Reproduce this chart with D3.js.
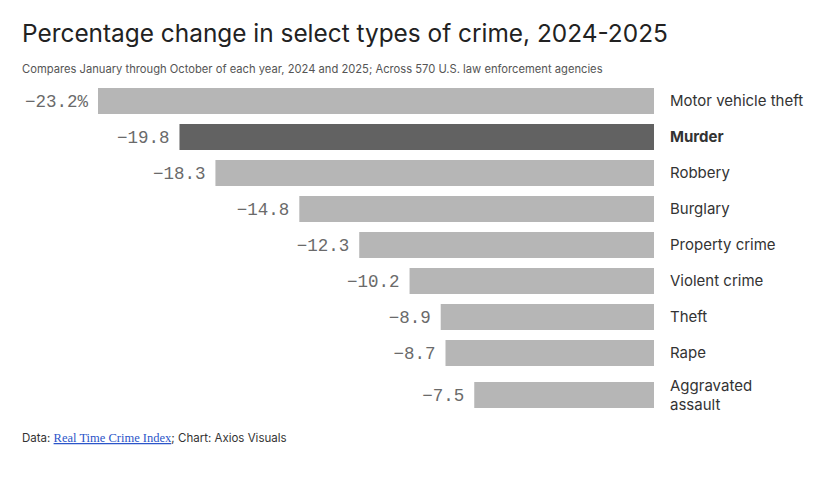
<!DOCTYPE html>
<html>
<head>
<meta charset="utf-8">
<script src="https://cdn.jsdelivr.net/npm/d3@7"></script>
<style>
  body { margin: 0; background: #fff; }
  svg text { font-family: Inter, "Noto Sans", sans-serif; }
</style>
</head>
<body>
<div id="chart"></div>
<script>
// Chart data
const crimes = ["Motor vehicle theft", "Murder", "Robbery", "Burglary", "Property crime",
                "Violent crime", "Theft", "Rape", "Aggravated assault"];
const changes = [-23.2, -19.8, -18.3, -14.8, -12.3, -10.2, -8.9, -8.7, -7.5];
const labelLines = [["Motor vehicle theft"], ["Murder"], ["Robbery"], ["Burglary"], ["Property crime"],
                    ["Violent crime"], ["Theft"], ["Rape"], ["Aggravated", "assault"]];
const highlight = "Murder";

const width = 822, height = 481;
const zeroX = 654, barH = 26, gap = 10, lineH = 19;

const svg = d3.select('#chart').append('svg')
    .attr('width', width)
    .attr('height', height);

// Title and subtitle
svg.append('text')
    .attr('x', 22).attr('y', 42)
    .attr('font-size', 24.4)
    .attr('fill', '#222')
    .text('Percentage change in select types of crime, 2024-2025');

svg.append('text')
    .attr('x', 22).attr('y', 73)
    .attr('font-size', 11.2)
    .attr('fill', '#555')
    .text('Compares January through October of each year, 2024 and 2025; Across 570 U.S. law enforcement agencies');

// Scales
const x = d3.scaleLinear()
    .domain([-23.2, 0])
    .range([98, zeroX]);

// Row positions: each row's height depends on how many label lines it has
const rowH = i => Math.max(barH, labelLines[i].length * lineH);
const rowTops = [];
let rowY = 88;
labelLines.forEach((lines, i) => {
    rowTops.push(rowY);
    rowY += rowH(i) + gap;
});

const rows = svg.selectAll('.row')
    .data(crimes.map((c, i) => ({ crime: c, value: changes[i], lines: labelLines[i], i })))
    .enter()
    .append('g')
    .attr('class', 'row')
    .attr('transform', d => `translate(0,${rowTops[d.i]})`);

rows.append('rect')
    .attr('x', d => x(d.value))
    .attr('y', d => (rowH(d.i) - barH) / 2)
    .attr('width', d => x(0) - x(d.value))
    .attr('height', barH)
    .attr('fill', d => d.crime === highlight ? '#626262' : '#b6b6b6');

rows.append('text')
    .attr('x', d => x(d.value) - 10)
    .attr('y', d => rowH(d.i) / 2)
    .attr('dy', '0.36em')
    .attr('text-anchor', 'end')
    .style('font-family', '"Liberation Mono", "Courier New", monospace')
    .attr('font-size', 17.5)
    .attr('fill', '#6a6a6a')
    .text(d => (d.i === 0 ? d3.format('.1f')(d.value) + '%' : d3.format('.1f')(d.value)).replace('-', '\u2212'));

const labels = rows.append('text')
    .attr('x', 670)
    .attr('font-size', 15)
    .attr('fill', '#333')
    .attr('font-weight', d => d.crime === highlight ? 700 : 400);

labels.selectAll('tspan')
    .data(d => d.lines.map((l, k) => ({ l, k, n: d.lines.length, h: rowH(d.i) })))
    .enter()
    .append('tspan')
    .attr('x', 670)
    .attr('y', t => t.h / 2 + (t.k - (t.n - 1) / 2) * lineH)
    .attr('dy', '0.36em')
    .text(t => t.l);

// Footer
const foot = svg.append('text')
    .attr('x', 22).attr('y', 442)
    .attr('font-size', 11.5)
    .attr('fill', '#333');
foot.append('tspan').text('Data: ');
foot.append('tspan')
    .style('font-family', '"Liberation Serif", "DejaVu Serif", serif')
    .attr('font-size', 12.5)
    .attr('fill', '#2b55c9')
    .attr('text-decoration', 'underline')
    .text('Real Time Crime Index');
foot.append('tspan').text('; Chart: Axios Visuals');
</script>
</body>
</html>
